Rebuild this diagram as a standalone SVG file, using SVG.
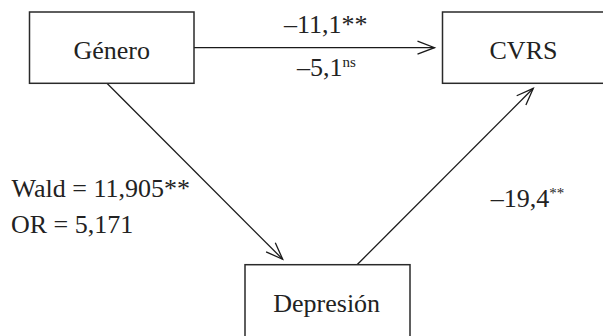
<svg xmlns="http://www.w3.org/2000/svg" width="603" height="336" viewBox="0 0 603 336">
<defs>
<style>
.box{fill:#fff;stroke:#2a2a2a;stroke-width:1.5}
.lbl{font-family:'Liberation Serif','Times New Roman',Times,'DejaVu Serif',serif;font-size:26px;fill:#222}
.edge{fill:none;stroke:#1a1a1a;stroke-width:1.3}
.sup{font-size:15px}
</style>
<marker id="arr" markerUnits="userSpaceOnUse" markerWidth="30" markerHeight="20" viewBox="-20 -10 30 20" refX="0" refY="0" orient="auto">
<path d="M -17 -6.5 L 0 0 L -17 6.5" fill="none" stroke="#1a1a1a" stroke-width="1.3"/>
</marker>
</defs>
<rect width="603" height="336" fill="#fff"/>
<g id="connectors">
<line class="edge" x1="194" y1="47.7" x2="434.5" y2="47.7" marker-end="url(#arr)"/>
<line class="edge" x1="106.7" y1="83" x2="282.7" y2="259.3" marker-end="url(#arr)"/>
<line class="edge" x1="357.3" y1="264.5" x2="533.3" y2="88.3" marker-end="url(#arr)"/>
<text class="lbl" x="284" y="32.5">–11,1**</text>
<text class="lbl" x="297" y="76">–5,1<tspan class="sup" dy="-9">ns</tspan></text>
<text class="lbl" x="11.5" y="196.7">Wald = 11,905**</text>
<text class="lbl" x="11" y="232.7">OR = 5,171</text>
<text class="lbl" x="490.7" y="206.7">–19,4<tspan class="sup" dy="-9">**</tspan></text>
</g>
<g id="genero">
<rect class="box" x="29.5" y="12" width="164.5" height="71.3"/>
<text class="lbl" x="111.7" y="59" text-anchor="middle">Género</text>
</g>
<g id="cvrs">
<rect class="box" x="442.5" y="12" width="170" height="71.3"/>
<text class="lbl" x="523.5" y="59" text-anchor="middle">CVRS</text>
</g>
<g id="depresion">
<rect class="box" x="245" y="264.7" width="165" height="90"/>
<text class="lbl" x="326.7" y="311.7" text-anchor="middle">Depresión</text>
</g>
</svg>
